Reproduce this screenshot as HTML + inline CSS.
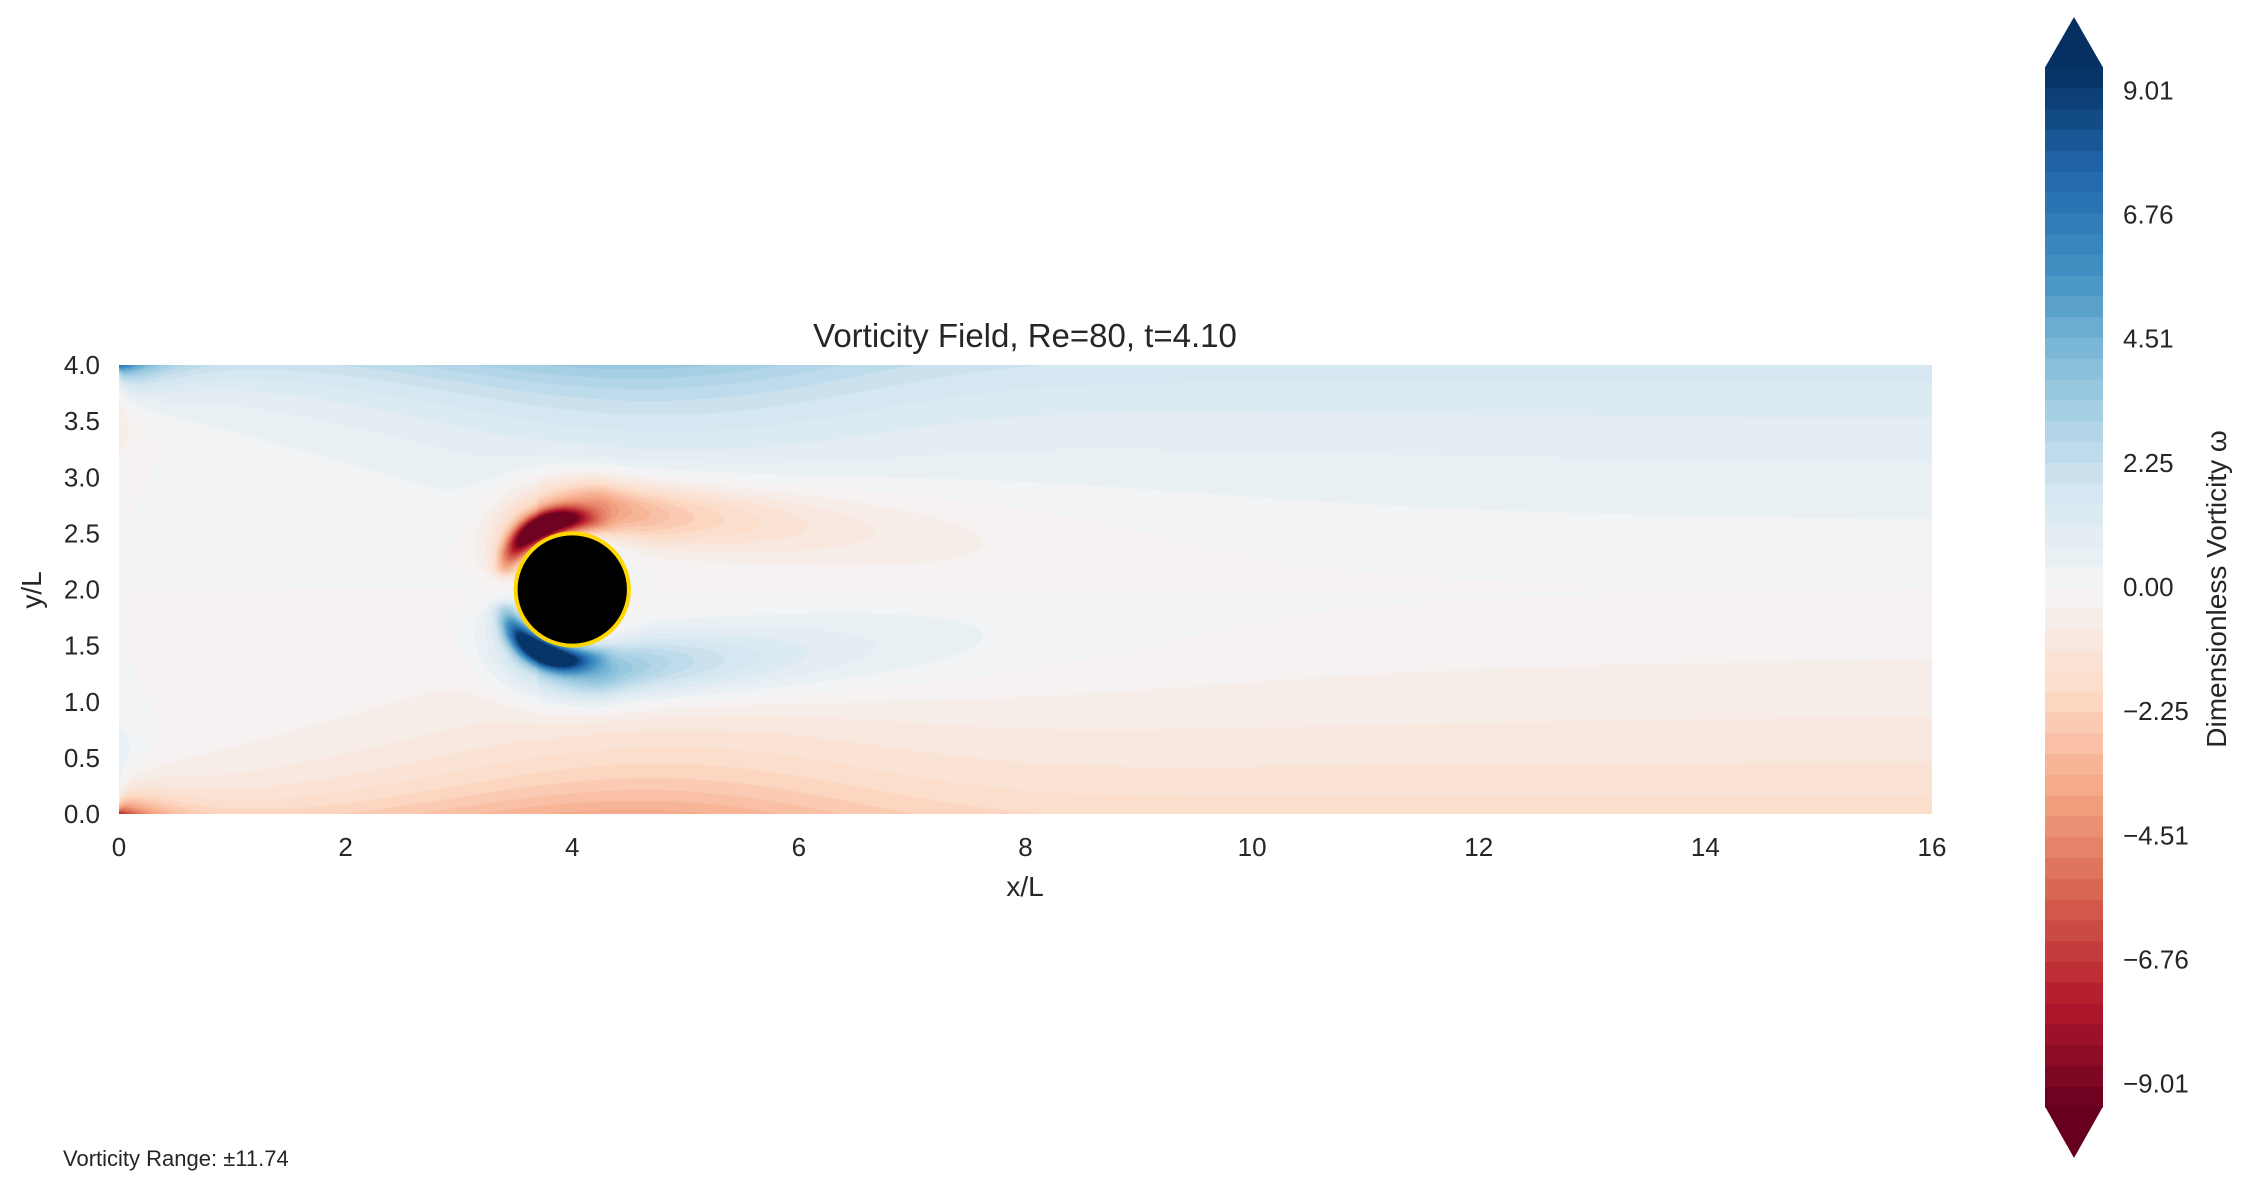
<!DOCTYPE html>
<html><head><meta charset="utf-8"><style>
html,body{margin:0;padding:0;background:#fff;}
body{width:2252px;height:1190px;position:relative;overflow:hidden;font-family:"Liberation Sans",sans-serif;color:#262626;}
canvas{position:absolute;}
svg{position:absolute;left:0;top:0;}
</style></head><body>
<canvas id="field" width="1813" height="449" style="left:119px;top:365px;"></canvas>
<svg id="ov" width="2252" height="1190"></svg>
<script>
const xTicks=[0,2,4,6,8,10,12,14,16];
const yTicks=[0.0,0.5,1.0,1.5,2.0,2.5,3.0,3.5,4.0];
const cbTicks=[9.01,6.76,4.51,2.25,0.00,-2.25,-4.51,-6.76,-9.01];
const cylinder=[4,2,0.5];
const levelRange=[-9.44,9.44];
const nLevels=50;
const rdbu=["#67001f","#b2182b","#d6604d","#f4a582","#fddbc7","#f4f5f6","#d1e5f0","#92c5de","#4393c3","#2166ac","#053061"];

const PL=119,PR=1932,PT=365,PB=814;
const sx=v=>PL+(v-0)/16*(PR-PL);
const sy=v=>PB-(v-0)/4*(PB-PT);
function hex(h){return [parseInt(h.substr(1,2),16),parseInt(h.substr(3,2),16),parseInt(h.substr(5,2),16)];}
const cm=rdbu.map(hex);
function cmap(t){t=Math.max(0,Math.min(1,t));const f=t*10,i=Math.min(9,Math.floor(f)),r=f-i;
 return cm[i].map((c,k)=>Math.round(c+(cm[i+1][k]-c)*r));}
function levelColor(v){const lo=levelRange[0],hi=levelRange[1];
 let b=Math.floor((v-lo)/(hi-lo)*nLevels);b=Math.max(0,Math.min(nLevels-1,b));
 return cmap((b+0.5)/nLevels);}
function omega(x,y){
 const d=0.06+0.3*Math.sqrt(x);
 const A=1.8+6*Math.exp(-x/0.3)+1.8*Math.exp(-Math.pow((x-4.5)/2.2,2));
 let w=A*Math.exp(-(4-y)/d)-A*Math.exp(-y/d);
 const ie=Math.exp(-x/0.35);
 w+=-0.7*ie*Math.exp(-Math.pow((y-3.5)/0.35,2))+0.7*ie*Math.exp(-Math.pow((y-0.5)/0.35,2));
 const dx=x-cylinder[0],dy=y-cylinder[1],r=Math.sqrt(dx*dx+dy*dy);
 const th=Math.atan2(Math.abs(dy),dx);
 const angW=Math.exp(-Math.pow((th-2.0)/0.7,2))*(th<2.85?1:Math.exp(-Math.pow((th-2.85)/0.15,2)));
 const near=(11*Math.exp(-Math.pow((r-0.62)/0.11,2))+3*Math.exp(-Math.pow((r-0.65)/0.35,2)))*angW;
 let wake=0;
 if(dx>-0.3){const ex=dx<0.3?Math.exp(-Math.pow((dx-0.3)/0.4,2)):Math.exp(-(dx-0.3)/1.7);
  const yc=0.72-0.06*Math.max(0,dx), wy=0.26+0.05*Math.max(0,dx);
  const gap=1-Math.exp(-Math.pow(Math.max(0,r-0.5)/0.18,2));
  wake=4.3*ex*Math.exp(-Math.pow((Math.abs(dy)-yc)/wy,2))*gap;}
 const sgn=dy>=0?-1:1;
 w+=sgn*(near+wake);
 return w;}
const cv=document.getElementById('field'),ctx=cv.getContext('2d');
const W=cv.width,H=cv.height,img=ctx.createImageData(W,H);
for(let j=0;j<H;j++){const y=4-(j+0.5)/H*4;for(let i=0;i<W;i++){const x=(i+0.5)/W*16;
 const c=levelColor(omega(x,y));const p=(j*W+i)*4;img.data[p]=c[0];img.data[p+1]=c[1];img.data[p+2]=c[2];img.data[p+3]=255;}}
ctx.putImageData(img,0,0);

const NS='http://www.w3.org/2000/svg',svg=document.getElementById('ov');
function el(t,a,txt){const e=document.createElementNS(NS,t);for(const k in a)e.setAttribute(k,a[k]);if(txt!==undefined)e.textContent=txt;svg.appendChild(e);return e;}
let e;
e=el('ellipse',{cx:sx(cylinder[0]),cy:sy(cylinder[1]),rx:sx(cylinder[2])-sx(0),ry:sy(0)-sy(cylinder[2]),fill:'#000',stroke:'#ffd700','stroke-width':4});

e=el('text',{x:1025,y:347,'font-size':33,'text-anchor':'middle',fill:'#262626'},'Vorticity Field, Re=80, t=4.10');

xTicks.forEach(v=>{const t=el('text',{x:sx(v),y:856,'font-size':26,'text-anchor':'middle',fill:'#262626'},String(v));
 });
yTicks.forEach(v=>{const t=el('text',{x:100,y:sy(v)+9,'font-size':26,'text-anchor':'end',fill:'#262626'},v.toFixed(1));
 });
e=el('text',{x:1025,y:896,'font-size':28,'text-anchor':'middle',fill:'#262626'},'x/L');

e=el('text',{x:0,y:0,'font-size':28,'text-anchor':'middle',fill:'#262626',transform:'translate(41,590) rotate(-90)'},'y/L');

const CL=2045,CR=2103,CT=67,CB=1107;
const cy=v=>CB-(v-levelRange[0])/(levelRange[1]-levelRange[0])*(CB-CT);
const g=el('g',{});
for(let b=0;b<nLevels;b++){const v0=levelRange[0]+b*(levelRange[1]-levelRange[0])/nLevels,v1=v0+(levelRange[1]-levelRange[0])/nLevels;
 const c=cmap((b+0.5)/nLevels);const r=document.createElementNS(NS,'rect');
 r.setAttribute('x',CL);r.setAttribute('y',cy(v1));r.setAttribute('width',CR-CL);r.setAttribute('height',cy(v0)-cy(v1)+0.6);
 r.setAttribute('fill','rgb('+c.join(',')+')');
 
 
 g.appendChild(r);}
const ct=cmap(1),cb=cmap(0);
e=el('polygon',{points:`${CL},${CT+0.5} ${(CL+CR)/2},17 ${CR},${CT+0.5}`,fill:'rgb('+ct.join(',')+')'});

e=el('polygon',{points:`${CL},${CB-0.5} ${(CL+CR)/2},1158 ${CR},${CB-0.5}`,fill:'rgb('+cb.join(',')+')'});

cbTicks.forEach(v=>{const s=(v<0?'\u2212':'')+Math.abs(v).toFixed(2);
 const t=el('text',{x:2123,y:cy(v)+9,'font-size':26,fill:'#262626'},s);
 });
e=el('text',{x:0,y:0,'font-size':28,'text-anchor':'middle',fill:'#262626',transform:'translate(2226,589) rotate(-90)'},'Dimensionless Vorticity \u03c9');

e=el('text',{x:63,y:1166,'font-size':22,fill:'#262626'},'Vorticity Range: \u00b111.74');

</script>
</body></html>
